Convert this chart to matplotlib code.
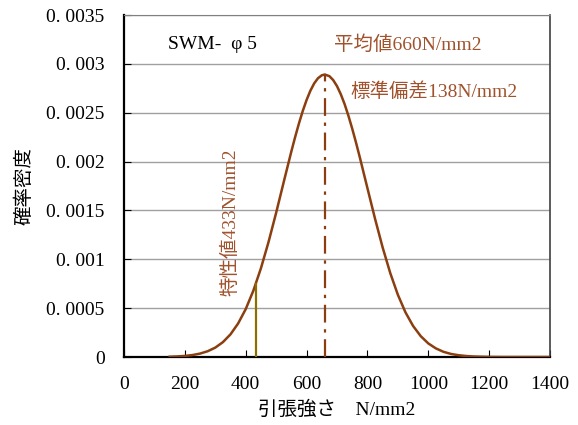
import matplotlib
matplotlib.use("Agg")
import matplotlib.pyplot as plt

plt.rcParams['font.family'] = ['Liberation Serif', 'Noto Sans CJK JP']

# curve points
strength = [150, 175, 200, 225, 250, 275, 300, 325, 350, 375, 400, 425, 450, 475,
            500, 525, 550, 562.5, 575, 587.5, 600, 612.5, 625, 637.5, 650, 660,
            675, 687.5, 700, 712.5, 725, 737.5, 750, 762.5, 775, 800,
            825, 850, 875, 900, 925, 950, 975, 1000, 1025, 1050, 1075, 1100, 1125,
            1150, 1175, 1200, 1250, 1300, 1350, 1400]
density = [0.000003, 0.000006, 0.000011, 0.00002, 0.000035, 0.000059, 0.000096,
           0.000152, 0.000232, 0.000343, 0.00049, 0.000678, 0.000908, 0.001177,
           0.001476, 0.001792, 0.002104, 0.002252, 0.002391, 0.002518, 0.00263,
           0.002725, 0.0028, 0.002853, 0.002883, 0.002891,
           0.002874, 0.002834, 0.002772, 0.002689, 0.002588, 0.002469, 0.002337,
           0.002194, 0.002043, 0.001728,
           0.001415, 0.001121, 0.000859, 0.000637, 0.000457, 0.000318, 0.000214,
           0.000139, 0.000088, 0.000053, 0.000031, 0.000018, 0.00001, 0.000005,
           0.000003, 0.000001, 0.0, 0.0, 0.0, 0.0]

mean_x, mean_y = 660, 0.002891
char_x, char_y = 433, 0.000747

yticks = [0, 0.0005, 0.001, 0.0015, 0.002, 0.0025, 0.003, 0.0035]
ytick_labels = ['0', '0. 0005', '0. 001', '0. 0015', '0. 002', '0. 0025', '0. 003', '0. 0035']
xticks = [0, 200, 400, 600, 800, 1000, 1200, 1400]

fig = plt.figure(figsize=(5.78, 4.25), dpi=100)
ax = fig.add_axes([124 / 578, 1 - 357 / 425, 426 / 578, 342 / 425])

brown = '#8B3E0F'
ax.plot(strength, density, color=brown, lw=1.8, zorder=3, solid_joinstyle='round')
ax.plot([mean_x, mean_x], [0, mean_y], color=brown, lw=1.6, ls=(0, (8, 3, 1.5, 3)), zorder=3)
ax.plot([char_x, char_x], [0, char_y], color='#8B7000', lw=1.6, zorder=3)

ax.set_xlim(0, 1400)
ax.set_ylim(0, 0.0035)
ax.set_xticks(xticks)
ax.set_yticks(yticks)
ax.set_yticklabels(ytick_labels)
ax.yaxis.grid(True, color='#a0a0a0', lw=1)
ax.set_axisbelow(True)
ax.tick_params(direction='in', labelsize=14, length=5, colors='black', pad=14)
ax.tick_params(axis='x', pad=14)
for s in ['left', 'bottom']:
    ax.spines[s].set_linewidth(1.6)
ax.spines['top'].set_color('#808080')
ax.spines['right'].set_color('#404040')
ax.spines['right'].set_linewidth(1.2)

ax.set_xlabel('引張強さ　N/mm2', fontsize=14, labelpad=5)
ax.set_ylabel('確率密度', fontsize=14, labelpad=9)

ax.text(145, 0.0032, 'SWM-  φ 5', fontsize=14, va='center')
ax.text(690, 0.0032, '平均値660N/mm2', fontsize=14, color='#A0522D', va='center')
ax.text(745, 0.00272, '標準偏差138N/mm2', fontsize=14, color='#A0522D', va='center')
ax.text(348, 0.00138, '特性値433N/mm2', fontsize=14, color='#A0522D',
        rotation=90, ha='center', va='center')

fig.savefig('out.png', dpi=100)
